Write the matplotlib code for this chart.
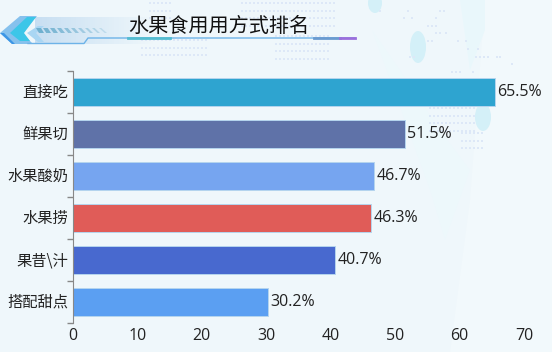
import numpy as np
import matplotlib
matplotlib.use('Agg')
import matplotlib.pyplot as plt
from matplotlib.patches import Polygon, Ellipse, Rectangle
from matplotlib.transforms import ScaledTranslation

plt.rcParams['font.family'] = ['Noto Sans CJK SC', 'DejaVu Sans']

categories = ['直接吃', '鲜果切', '水果酸奶', '水果捞', '果昔\\汁', '搭配甜点']
values = [65.5, 51.5, 46.7, 46.3, 40.7, 30.2]
colors = ['#2ea4d0', '#5f72a8', '#76a5f0', '#e05c58', '#4869cf', '#5b9ff2']
xticks = [0, 10, 20, 30, 40, 50, 60, 70]
num_font = ['Open Sans', 'DejaVu Sans']

W, H = 552, 352
fig = plt.figure(figsize=(W / 100, H / 100), dpi=100, facecolor='#eff7fb')

# background layer in pixel coords
bg = fig.add_axes([0, 0, 1, 1], zorder=0)
bg.set_xlim(0, W)
bg.set_ylim(H, 0)
bg.axis('off')
bg.add_patch(Polygon([[485, 0], [552, 0], [552, 352], [450, 352], [470, 200]], color='#f2f9fc', lw=0))
bg.add_patch(Polygon([[460, 0], [485, 0], [485, 30], [470, 70]], color='#e9f7fb', lw=0))
bg.add_patch(Polygon([[372, 30], [400, 70], [440, 130], [470, 170], [445, 240], [430, 190]], color='#edf8fb', lw=0))
for cx, cy, w, h in [(418, 47, 16, 32), (483, 117, 16, 28), (375, 3, 14, 20)]:
    bg.add_patch(Ellipse((cx, cy), w, h, color='#d4f0f8', lw=0))


def dots(x0, x1, y0, y1, step=7.6):
    xs, ys = np.meshgrid(np.arange(x0, x1, 4), np.arange(y0, y1, step))
    bg.scatter(xs.ravel(), ys.ravel(), s=4, marker='s', color='#dde8f7', lw=0)


dots(242, 338, 3, 30)
dots(276, 330, 36, 62)
dots(150, 172, 3, 24)
dots(142, 210, 40, 60)
dots(430, 476, 108, 135)
dots(462, 484, 133, 150)

# sparse map dots at the upper right
sparse_x = [380, 408, 404, 412, 436, 440, 444, 428, 432, 436, 446, 458, 466, 468, 478, 476, 480, 484,
            488, 497, 452, 456, 460, 473, 410, 414, 428, 432, 436, 440, 512, 500]
sparse_y = [11, 11, 18, 18, 18, 11, 11, 26, 26, 26, 33, 41, 41, 49, 49, 57, 57, 57, 57, 57, 72, 72, 72, 72,
            57, 57, 41, 41, 33, 33, 64, 57]
bg.scatter(sparse_x, sparse_y, s=4, marker='s', color='#dde8f7', lw=0)

# title decoration
for i, a in enumerate(np.linspace(1, 0, 50)):
    bg.add_patch(Rectangle((35 + i * 2.4, 17), 2.4, 27, color='#c3dcf1', alpha=a * 0.9, lw=0))
bg.add_patch(Polygon([[0, 33], [20, 16], [37, 16], [22, 33], [33, 44], [12, 44]], color='#6cb4ea', lw=0, alpha=0.8))
bg.add_patch(Polygon([[10, 33], [27, 17], [36, 17], [24, 33], [30, 41], [20, 41]], color='#3cc6e8', lw=0))
bg.add_patch(Polygon([[0, 33], [12, 44], [15, 44], [4, 33]], color='#3c96e6', lw=0))
bg.add_patch(Polygon([[27, 33], [38, 26], [44, 26], [36, 33], [44, 42], [38, 42]], color='#a9d6f3', lw=0))
for i in range(10):
    bg.add_patch(Polygon([[36 + i * 7, 28], [41 - i * 0.3 + i * 7, 28], [44 + i * 7, 33], [39 + i * 0.3 + i * 7, 33]],
                         color='#6fb0cf', alpha=1 - i * 0.08, lw=0))
bg.plot([28, 84, 88, 355], [43.5, 43.5, 38, 38], color='#6db3e8', lw=1)
bg.plot([128, 170], [38, 38], color='#53bcd0', lw=2)
bg.plot([314, 340], [38, 38], color='#6a9bd0', lw=2)
bg.plot([340, 355], [38, 38], color='#9a6fdc', lw=2)

# chart
ax = fig.add_axes([73 / W, 1 - 323 / H, 451 / W, 252 / H], zorder=1)
ax.patch.set_alpha(0)
y = np.arange(len(categories))
ax.barh(y, values, height=0.69, color=colors, edgecolor='#b5d5ee', linewidth=0.7)
ax.set_ylim(len(categories) - 0.5, -0.5)
ax.set_xlim(0, 70)
ax.set_xticks(xticks)
ax.set_yticks(y, categories)
ax.set_yticks(np.arange(-0.5, len(categories)), minor=True)
ax.tick_params(axis='y', which='major', length=0, labelsize=11, pad=3.5, labelcolor='#222222')
ax.tick_params(axis='y', which='minor', length=4, color='#888888', width=1)
ax.tick_params(axis='x', length=0, labelsize=11.5, pad=3.5, labelcolor='#222222')
for lab in ax.get_xticklabels():
    lab.set_family(num_font)
shift = ScaledTranslation(0, 1.5 / 72 * 72 / 100, fig.dpi_scale_trans)
for lab in ax.get_yticklabels():
    lab.set_transform(lab.get_transform() + shift)
for s in ['top', 'right', 'bottom']:
    ax.spines[s].set_visible(False)
ax.spines['left'].set_color('#888888')
for i, v in enumerate(values):
    ax.text(v + 0.4, i, f'{v}%', va='center', ha='left', fontsize=11.5, color='#222222', family=num_font)

fig.text(219 / W, 1 - 26 / H, '水果食用用方式排名', ha='center', va='center', fontsize=14.5, color='#111111', zorder=2)

fig.savefig('out.png', dpi=100, facecolor=fig.get_facecolor())
